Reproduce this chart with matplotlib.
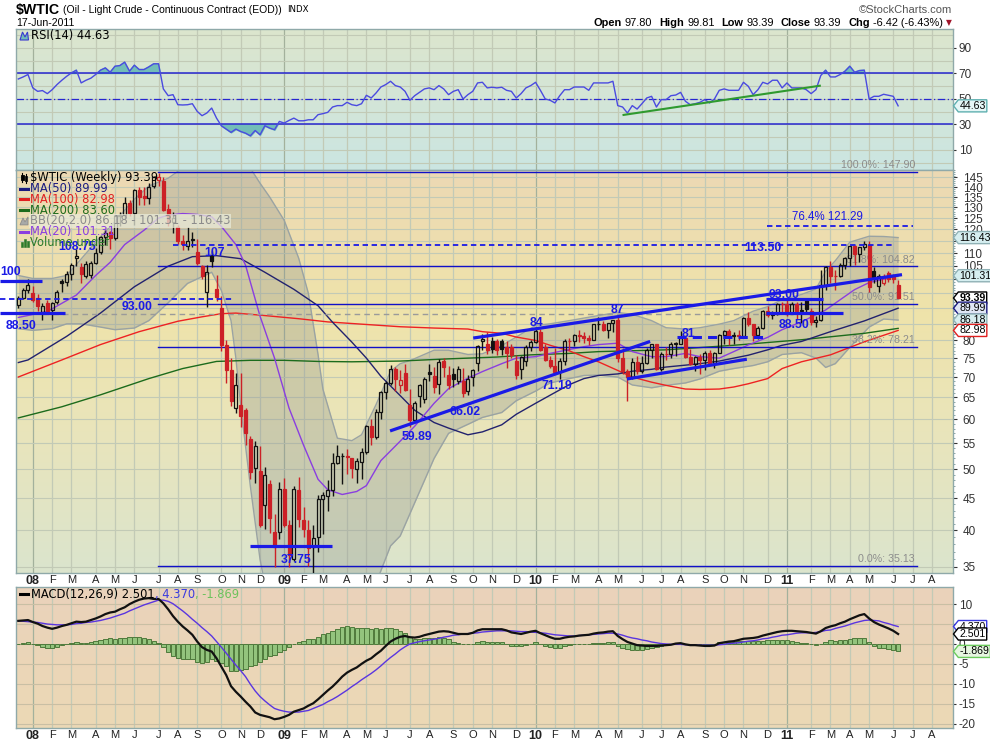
import numpy as np
import pandas as pd
import matplotlib
matplotlib.use("Agg")
import matplotlib.pyplot as plt
from matplotlib.path import Path
from matplotlib.patches import Polygon
from matplotlib.ticker import FixedLocator, NullFormatter

W, H = 990, 744

# ---------------- data (weekly bars, week starting Monday) ----------------
first_monday = "2007-12-17"

opens = [91.0, 93.4, 96.0, 95.0, 93.4, 88.6, 91.6, 89.4, 92.1, 99.5,
         99.0, 101.9, 108.2, 104.6, 101.2, 101.6, 106.3, 110.3, 116.6, 119.0,
         116.3, 125.9, 126.3, 132.0, 127.5, 138.6, 135.5, 134.6, 140.3, 143.6,
         143.0, 129.3, 123.3, 121.0, 115.2, 112.8, 115.8, 110.3, 104.9, 95.5,
         109.4, 96.6, 90.0, 78.6, 71.9, 62.6, 63.3, 62.1, 55.9, 50.3,
         49.7, 43.9, 47.3, 39.7, 39.8, 46.6, 40.8, 36.0, 46.3, 41.5,
         40.0, 37.6, 39.0, 44.8, 45.4, 46.3, 51.1, 52.4, 52.5, 52.0,
         50.0, 51.3, 53.3, 58.6, 56.3, 61.7, 66.3, 68.4, 72.0, 68.0,
         71.0, 63.3, 59.8, 65.4, 64.5, 71.3, 70.2, 68.2, 74.2, 70.5,
         70.7, 68.9, 69.1, 66.5, 70.0, 73.8, 79.9, 79.0, 79.9, 79.9,
         79.9, 78.1, 78.1, 74.3, 72.1, 74.3, 78.1, 79.4, 82.6, 78.0,
         74.5, 72.9, 71.2, 74.1, 79.8, 79.7, 81.5, 81.2, 80.7, 80.0,
         84.9, 84.9, 83.2, 85.1, 86.2, 75.1, 71.6, 70.0, 74.0, 71.5,
         73.8, 77.2, 78.9, 72.1, 76.1, 76.0, 79.0, 79.0, 80.7, 75.4,
         73.5, 75.2, 74.6, 76.5, 73.7, 76.5, 81.6, 82.7, 81.3, 81.7,
         81.4, 86.9, 84.9, 81.5, 83.8, 89.2, 87.8, 88.0, 91.5, 91.4,
         88.0, 91.5, 89.1, 92.6, 89.0, 85.6, 86.2, 97.9, 104.4, 101.2,
         101.1, 105.4, 107.9, 112.8, 109.7, 112.3, 113.5, 103.2, 97.6, 98.8,
         102.5, 101.2, 97.80]
highs = [94.0, 96.9, 100.1, 97.6, 94.6, 91.7, 92.6, 92.0, 96.0, 100.1,
         103.1, 106.0, 111.8, 106.2, 107.0, 107.0, 112.2, 117.0, 119.9, 119.3,
         126.2, 127.8, 135.1, 133.6, 139.1, 139.9, 139.9, 142.0, 145.9, 147.3,
         145.3, 131.6, 127.8, 122.0, 117.5, 121.0, 118.9, 116.0, 105.5, 105.5,
         110.8, 101.5, 94.0, 80.0, 75.0, 71.0, 71.0, 62.5, 56.5, 55.5,
         54.5, 50.5, 48.0, 42.5, 47.7, 48.5, 41.5, 47.0, 48.6, 43.5,
         41.5, 40.8, 45.5, 46.0, 48.1, 53.0, 54.7, 53.0, 53.8, 52.0,
         52.0, 54.0, 58.7, 60.1, 62.3, 66.4, 69.0, 73.2, 72.7, 71.8,
         73.4, 66.9, 64.2, 68.3, 70.0, 73.3, 72.5, 74.7, 75.0, 72.8,
         72.4, 73.0, 72.4, 70.5, 72.0, 78.8, 82.0, 82.5, 81.0, 80.5,
         80.5, 79.8, 79.0, 75.8, 75.5, 78.6, 80.0, 83.9, 83.4, 79.0,
         75.6, 77.8, 75.0, 80.5, 80.6, 82.0, 83.1, 82.6, 81.6, 85.0,
         87.0, 86.0, 85.3, 86.3, 87.2, 77.9, 72.0, 75.0, 75.6, 75.5,
         77.9, 79.0, 78.9, 76.6, 78.0, 79.4, 79.5, 82.9, 81.0, 77.5,
         75.5, 76.0, 77.0, 77.3, 76.8, 81.9, 83.2, 83.5, 82.6, 83.0,
         87.0, 88.6, 85.0, 84.4, 89.4, 90.8, 89.2, 91.6, 91.9, 92.6,
         92.0, 92.0, 92.2, 92.8, 89.9, 87.5, 103.4, 104.9, 106.9, 103.4,
         106.0, 108.5, 113.0, 113.2, 112.7, 114.8, 114.8, 104.6, 101.8, 101.8,
         103.0, 101.8, 99.81]
lows = [89.9, 92.9, 95.2, 92.0, 89.0, 86.1, 88.4, 86.1, 91.4, 95.6,
        97.7, 99.6, 105.0, 98.7, 100.4, 100.5, 105.6, 109.6, 113.5, 111.8,
        115.5, 121.5, 124.6, 125.8, 122.0, 131.3, 131.3, 131.8, 139.4, 140.4,
        128.2, 121.6, 118.5, 113.9, 111.3, 111.2, 112.4, 105.5, 100.0, 90.5,
        104.5, 92.3, 77.0, 68.6, 63.0, 61.3, 58.3, 54.7, 48.3, 47.5,
        40.5, 40.2, 39.6, 35.0, 38.8, 40.5, 35.0, 35.8, 40.5, 39.1,
        35.1, 34.0, 37.0, 39.5, 43.0, 45.4, 51.0, 47.3, 49.1, 48.4,
        47.5, 48.3, 52.9, 54.7, 55.8, 60.0, 64.7, 67.9, 66.5, 66.0,
        66.4, 58.3, 59.5, 62.7, 63.6, 69.0, 66.0, 65.9, 70.0, 67.1,
        67.4, 68.2, 65.1, 65.5, 67.7, 71.5, 77.3, 76.0, 76.5, 75.8,
        75.9, 72.4, 75.1, 69.5, 69.4, 73.0, 76.9, 79.2, 77.1, 74.3,
        72.4, 70.7, 69.5, 73.1, 77.3, 78.4, 79.4, 79.2, 78.8, 80.0,
        83.2, 82.7, 80.6, 82.6, 74.0, 70.8, 64.2, 69.5, 70.8, 71.1,
        73.4, 75.0, 71.9, 71.6, 74.5, 75.0, 75.7, 78.9, 74.9, 73.2,
        71.6, 70.8, 71.8, 73.2, 72.4, 76.4, 79.0, 78.8, 78.9, 80.2,
        81.3, 84.4, 79.9, 80.5, 83.5, 87.0, 86.6, 87.9, 88.8, 87.6,
        88.0, 86.6, 85.1, 88.5, 84.6, 84.1, 86.0, 96.1, 98.6, 96.2,
        100.8, 103.9, 105.0, 105.5, 106.4, 111.2, 95.5, 98.5, 95.5, 98.0,
        99.0, 98.5, 93.39]
closes = [93.3, 96.0, 97.9, 92.7, 90.6, 90.7, 89.0, 91.8, 95.5, 98.8,
          101.8, 105.2, 108.75, 101.8, 105.6, 106.2, 110.1, 116.7, 118.5, 116.3,
          126.0, 126.3, 132.2, 127.4, 138.5, 134.9, 134.6, 140.2, 145.3, 145.1,
          128.9, 123.3, 125.1, 115.2, 113.8, 114.9, 115.5, 106.2, 101.2, 102.6,
          106.9, 93.9, 78.7, 71.9, 64.2, 67.9, 60.8, 57.0, 49.5, 54.4,
          40.8, 49.0, 41.8, 37.7, 46.5, 40.8, 36.5, 46.5, 41.7, 40.2,
          37.5, 38.9, 44.8, 45.5, 46.3, 51.1, 52.4, 52.5, 52.2, 50.3,
          51.6, 53.2, 58.6, 56.3, 61.7, 66.3, 68.4, 72.0, 69.6, 69.2,
          66.7, 59.9, 63.6, 68.1, 69.5, 70.9, 67.5, 73.9, 72.7, 68.0,
          69.5, 72.0, 66.0, 69.5, 71.8, 78.5, 80.5, 77.3, 77.6, 77.3,
          77.6, 76.4, 75.9, 70.5, 75.2, 78.1, 79.4, 82.8, 77.3, 74.5,
          72.9, 71.2, 74.1, 79.8, 79.7, 81.5, 81.2, 80.7, 80.0, 84.9,
          84.9, 83.2, 85.1, 86.2, 75.1, 71.6, 70.0, 74.0, 71.5, 73.8,
          77.2, 78.9, 72.1, 76.1, 76.0, 79.0, 79.0, 80.7, 75.4, 73.5,
          75.2, 74.6, 76.5, 73.7, 76.5, 81.6, 82.7, 81.3, 81.7, 81.4,
          86.9, 84.9, 81.5, 83.8, 89.2, 87.8, 88.0, 91.5, 91.4, 88.0,
          91.5, 89.1, 89.3, 89.7, 85.6, 86.2, 97.9, 104.4, 101.2, 101.1,
          105.4, 107.9, 112.8, 109.7, 112.3, 113.9, 97.2, 100.7, 101.2, 100.9,
          100.2, 100.0, 93.39]

rsi = [65.7, 67.3, 69.2, 58.7, 56.0, 56.6, 54.2, 57.3, 61.3, 64.7,
       67.8, 70.5, 72.6, 62.6, 64.7, 66.3, 69.2, 72.6, 74.4, 71.0,
       75.7, 76.2, 78.9, 71.8, 76.5, 73.1, 73.1, 75.2, 77.6, 77.6,
       57.9, 52.6, 53.4, 45.5, 45.3, 45.5, 46.3, 40.3, 36.9, 39.0,
       42.9, 35.0, 29.0, 26.4, 23.8, 26.4, 24.5, 23.2, 21.1, 25.3,
       21.9, 29.0, 27.2, 25.9, 32.4, 31.1, 33.2, 35.0, 32.9, 32.9,
       33.7, 33.7, 37.7, 38.5, 39.5, 43.7, 44.8, 44.8, 47.4, 45.5,
       44.8, 46.3, 52.9, 50.8, 54.7, 59.4, 61.3, 63.9, 60.5, 59.4,
       56.0, 49.0, 52.6, 55.2, 57.9, 58.7, 57.3, 60.5, 57.9, 53.4,
       56.0, 57.3, 50.0, 53.4, 56.0, 62.6, 63.1, 58.7, 59.2, 58.7,
       59.2, 56.8, 56.0, 50.8, 54.2, 58.7, 60.5, 63.1, 56.8, 50.0,
       49.0, 46.9, 52.6, 57.3, 57.3, 59.4, 59.4, 59.4, 56.8, 62.6,
       62.6, 62.6, 62.6, 63.9, 44.8, 43.7, 39.0, 44.8, 42.1, 46.3,
       50.8, 52.1, 43.7, 49.5, 49.5, 52.6, 53.1, 55.2, 48.2, 45.5,
       46.3, 47.4, 49.5, 46.9, 50.0, 56.8, 57.9, 56.8, 56.8, 56.8,
       63.1, 60.0, 53.4, 57.3, 63.1, 61.8, 64.7, 64.7, 58.7, 62.6,
       58.7, 58.7, 58.7, 57.3, 54.2, 57.3, 68.4, 72.6, 67.3, 67.3,
       69.2, 71.8, 75.7, 71.0, 72.3, 72.6, 50.0, 52.1, 52.1, 53.7,
       52.9, 52.1, 44.63]

macd = [5.8, 5.9, 6.0, 5.5, 5.1, 4.5, 4.1, 3.8, 4.1, 4.5,
        4.8, 5.2, 5.6, 5.5, 5.6, 6.0, 6.4, 6.9, 7.5, 7.9,
        8.1, 8.7, 9.2, 10.0, 10.6, 11.1, 11.4, 11.5, 11.3, 11.3,
        10.2, 8.7, 7.0, 5.6, 4.4, 3.4, 2.3, 0.6, -0.8, -1.5,
        -1.9, -3.6, -5.7, -7.8, -10.6, -12.0, -13.2, -14.5, -15.7, -17.2,
        -17.8, -18.1, -18.4, -18.9, -18.7, -18.3, -17.8, -17.0, -16.6, -16.2,
        -15.5, -14.9, -13.9, -12.8, -11.7, -10.7, -9.5, -8.2, -7.2, -6.5,
        -5.9, -5.0, -4.2, -3.6, -2.6, -1.7, -0.5, 0.6, 1.3, 1.8,
        2.0, 1.7, 1.6, 1.8, 2.2, 2.5, 2.8, 3.1, 3.2, 3.1,
        2.8, 2.5, 2.5, 2.5, 2.8, 3.4, 3.7, 3.7, 3.7, 3.7,
        3.7, 3.4, 2.9, 2.7, 2.5, 2.8, 3.1, 3.3, 2.7, 2.2,
        1.7, 1.3, 1.3, 1.6, 1.8, 1.9, 2.1, 2.2, 2.3, 2.6,
        2.8, 2.9, 3.1, 3.2, 2.0, 1.2, 0.5, 0.1, -0.3, -0.4,
        -0.5, -0.5, -0.5, -0.4, -0.3, -0.2, 0.1, 0.2, -0.1, -0.3,
        -0.3, -0.4, -0.5, -0.5, -0.4, 0.2, 0.4, 0.6, 0.7, 1.0,
        1.3, 1.4, 1.5, 1.7, 2.1, 2.4, 2.7, 3.0, 3.2, 3.3,
        3.3, 3.2, 3.1, 3.0, 2.8, 2.6, 3.2, 4.0, 4.4, 4.7,
        5.2, 5.6, 6.2, 6.7, 7.2, 7.5, 6.4, 5.5, 4.9, 4.4,
        3.9, 3.3, 2.501]
signal = [5.8, 5.7, 5.6, 5.5, 5.4, 5.2, 5.0, 4.9, 4.8, 4.8,
          4.8, 4.9, 5.1, 5.2, 5.4, 5.5, 5.7, 5.9, 6.2, 6.5,
          6.9, 7.3, 7.7, 8.3, 8.8, 9.3, 9.8, 10.2, 10.6, 11.0,
          11.0, 10.7, 10.1, 9.2, 8.3, 7.3, 6.2, 5.2, 4.1, 3.1,
          2.0, 0.6, -0.8, -2.3, -3.8, -5.3, -6.7, -8.2, -10.1, -11.8,
          -13.2, -14.3, -15.3, -16.2, -16.6, -16.9, -17.1, -17.1, -17.1, -16.9,
          -16.7, -16.2, -15.7, -15.2, -14.5, -13.9, -13.2, -12.4, -11.6, -10.7,
          -9.9, -9.0, -8.2, -7.4, -6.5, -5.5, -4.4, -3.4, -2.5, -1.5,
          -0.7, 0.0, 0.3, 0.6, 0.8, 1.0, 1.2, 1.4, 1.7, 1.9,
          2.2, 2.3, 2.5, 2.6, 2.7, 2.8, 3.0, 3.1, 3.2, 3.3,
          3.3, 3.3, 3.3, 3.2, 3.1, 3.1, 3.0, 2.9, 2.8, 2.7,
          2.5, 2.3, 2.2, 2.1, 2.0, 2.0, 2.1, 2.2, 2.3, 2.4,
          2.5, 2.6, 2.7, 2.7, 2.5, 2.2, 1.8, 1.5, 1.3, 1.0,
          0.8, 0.5, 0.3, 0.1, 0.0, -0.1, -0.1, -0.1, -0.2, -0.2,
          -0.3, -0.3, -0.3, -0.3, -0.3, -0.2, -0.1, 0.1, 0.2, 0.3,
          0.5, 0.7, 0.8, 1.0, 1.3, 1.4, 1.7, 1.9, 2.2, 2.3,
          2.5, 2.7, 2.8, 2.8, 2.8, 2.9, 3.1, 3.4, 3.5, 3.9,
          4.2, 4.5, 4.9, 5.3, 5.6, 5.9, 6.0, 5.9, 5.8, 5.4,
          5.1, 4.7, 4.370]
hist = [0.0, 0.2, 0.4, 0.0, -0.3, -0.7, -0.9, -1.1, -0.7, -0.3,
        0.0, 0.3, 0.5, 0.3, 0.2, 0.5, 0.7, 1.0, 1.3, 1.4,
        1.2, 1.4, 1.5, 1.7, 1.8, 1.8, 1.6, 1.3, 0.7, 0.3,
        -0.8, -2.0, -3.1, -3.6, -3.9, -3.9, -3.9, -4.6, -4.9, -4.6,
        -3.9, -4.2, -4.9, -5.5, -6.8, -6.7, -6.5, -6.3, -5.6, -5.4,
        -4.6, -3.8, -3.1, -2.7, -2.1, -1.4, -0.7, 0.1, 0.5, 0.7,
        1.2, 1.3, 1.8, 2.4, 2.8, 3.2, 3.7, 4.2, 4.4, 4.2,
        4.0, 4.0, 4.0, 3.8, 3.9, 3.8, 3.9, 4.0, 3.8, 3.3,
        2.7, 1.7, 1.3, 1.2, 1.4, 1.5, 1.6, 1.7, 1.5, 1.2,
        0.6, 0.2, 0.0, -0.1, 0.1, 0.6, 0.7, 0.6, 0.5, 0.4,
        0.4, 0.1, -0.4, -0.5, -0.6, -0.3, 0.1, 0.4, -0.1, -0.5,
        -0.8, -1.0, -0.9, -0.5, -0.2, -0.1, 0.0, 0.0, 0.0, 0.2,
        0.3, 0.3, 0.4, 0.5, -0.5, -1.0, -1.3, -1.4, -1.6, -1.4,
        -1.3, -1.0, -0.8, -0.5, -0.3, -0.1, 0.2, 0.3, 0.1, -0.1,
        0.0, -0.1, -0.2, -0.2, -0.1, 0.4, 0.5, 0.5, 0.5, 0.7,
        0.8, 0.7, 0.7, 0.7, 0.8, 1.0, 1.0, 1.1, 1.0, 1.0,
        0.8, 0.5, 0.3, 0.2, 0.0, -0.3, 0.1, 0.6, 0.9, 0.8,
        1.0, 1.1, 1.3, 1.4, 1.6, 1.6, 0.4, -0.4, -0.9, -1.0,
        -1.2, -1.4, -1.869]

# overlay lines at sample bars
ma20_idx = [0, 6, 12, 16, 19, 22, 26, 29, 31, 34, 37, 40, 42, 45, 47, 50, 53, 56, 59, 62,
            64, 67, 70, 72, 75, 79, 82, 86, 89, 93, 96, 100, 103, 107, 110, 114, 117, 120,
            124, 127, 131, 134, 138, 141, 145, 148, 151, 155, 158, 162, 167, 170, 173,
            176, 179, 182]
ma20_val = [87.0, 88.9, 94.4, 101.4, 106.4, 113.5, 119.6, 125.0, 126.4, 127.1, 126.7,
            125.6, 121.3, 113.5, 105.3, 87.4, 75.0, 62.5, 54.6, 48.2, 46.4, 45.6, 46.1,
            47.1, 51.6, 55.4, 58.5, 63.6, 67.1, 69.7, 71.4, 73.5, 75.0, 75.4, 76.3, 77.4,
            78.2, 78.8, 79.2, 76.8, 75.4, 75.4, 76.3, 75.4, 75.0, 76.8, 78.7, 80.9, 83.2,
            85.6, 89.4, 92.8, 96.3, 98.8, 100.0, 101.31]
ma50_idx = [0, 2, 10, 17, 24, 31, 36, 41, 46, 51, 57, 62, 65, 69, 72, 75, 79, 82, 86, 89,
            93, 96, 100, 103, 107, 110, 114, 117, 120, 124, 127, 131, 134, 138, 141, 145,
            148, 151, 155, 158, 162, 168, 175, 182]
ma50_val = [73.8, 74.5, 81.2, 88.4, 97.3, 104.9, 108.6, 109.0, 107.8, 102.6, 96.4, 90.8,
            85.5, 79.5, 75.0, 70.2, 65.4, 62.0, 59.3, 58.1, 56.7, 57.3, 58.8, 61.1, 63.6,
            65.5, 68.1, 69.6, 70.4, 70.8, 71.5, 72.0, 72.6, 73.1, 73.5, 74.2, 75.0, 75.8,
            77.3, 78.6, 79.7, 82.6, 85.9, 89.99]
ma100_idx = [0, 9, 17, 25, 33, 38, 42, 45, 51, 58, 64, 79, 86, 93, 96, 100, 103, 107, 110,
             114, 117, 120, 124, 127, 131, 134, 138, 141, 145, 148, 151, 155, 158, 162, 168,
             175, 182]
ma100_val = [70.0, 74.5, 78.8, 82.6, 85.8, 87.2, 88.2, 88.4, 87.6, 86.6, 85.6, 84.1, 83.7,
             83.4, 82.6, 82.1, 81.0, 80.0, 78.6, 77.0, 75.4, 74.0, 71.7, 70.0, 68.7, 67.9,
             67.0, 66.9, 67.0, 67.5, 68.3, 69.6, 72.2, 74.0, 75.9, 79.6, 82.98]
ma200_idx = [0, 9, 17, 27, 34, 41, 48, 55, 62, 69, 79, 89, 99, 106, 114, 120, 134, 148,
             162, 175, 182]
ma200_val = [60.3, 62.8, 65.6, 69.6, 72.2, 74.1, 74.4, 74.4, 74.1, 74.0, 74.2, 74.8, 75.3,
             75.9, 76.3, 76.8, 77.3, 78.6, 80.2, 82.1, 83.60]
bb_idx = [0, 3, 7, 10, 13, 17, 20, 24, 27, 31, 35, 40, 42, 44, 45, 46, 48, 50, 52, 55, 58,
          60, 62, 63, 66, 69, 71, 74, 77, 79, 81, 86, 89, 93, 96, 100, 103, 107, 110, 114,
          117, 120, 124, 127, 131, 134, 138, 141, 145, 148, 152, 155, 158, 162, 165, 167,
          169, 172, 176, 179, 182]
bb_upper = [101.4, 100.3, 100.3, 101.4, 107.7, 116.8, 123.5, 133.9, 140.5, 144.6, 152.0,
            154.0, 154.0, 153.5, 153.0, 152.0, 150.0, 142.0, 135.0, 124.0, 108.0, 95.0,
            76.0, 67.0, 56.0, 55.5, 56.7, 63.3, 71.5, 73.5, 74.3, 77.2, 77.2, 76.0, 76.2,
            78.5, 81.0, 84.5, 85.0, 86.0, 86.8, 87.6, 88.6, 88.0, 86.0, 83.8, 83.4, 83.8,
            84.9, 86.0, 89.0, 90.5, 92.8, 94.6, 96.5, 103.0, 107.0, 114.5, 117.0, 116.9,
            116.43]
bb_lower = [83.5, 83.0, 83.5, 85.0, 85.0, 84.0, 83.2, 83.7, 86.0, 91.8, 98.5, 102.6, 96.0,
            86.0, 75.0, 63.0, 47.0, 36.0, 30.0, 25.0, 22.0, 22.0, 24.0, 25.0, 27.0, 29.0,
            31.0, 33.0, 37.8, 39.2, 42.5, 52.0, 57.0, 58.9, 60.4, 61.5, 64.2, 66.5, 68.5,
            69.6, 70.4, 70.5, 70.0, 68.0, 67.3, 67.9, 68.5, 69.5, 71.5, 72.2, 73.0, 74.0,
            76.0, 76.5, 75.0, 72.5, 73.5, 78.0, 84.0, 86.5, 86.18]

# annotation levels drawn on the chart (bar index from, bar index to, price)
thick_levels = [(-3.8, 4.9, 99.5), (-3.8, 9.7, 88.5), (47.9, 64.9, 37.75),
                (154.7, 166.5, 93.0), (154.7, 170.6, 88.5)]
dashed_levels = [(-3.8, 44.4, 93.0, 1.3), (136.3, 154.5, 81.0, 2.2),
                 (32.0, 181.4, 113.5, 1.3), (154.9, 185.1, 121.29, 1.3)]
trend_lines = [(76.9, 57.5, 130.7, 79.7), (94.1, 80.7, 182.8, 101.7),
               (125.9, 69.5, 150.7, 74.7)]
fib_pct = ["100.0%", "61.8%", "50.0%", "38.2%", "0.0%"]
fib_val = [147.90, 104.82, 91.51, 78.21, 35.13]
blue_labels = [("100", -3.8, 102.8, "left"), ("88.50", 0.6, 84.4, "center"),
               ("93.00", 24.6, 90.3, "center"), ("108.75", 12.2, 112.7, "center"),
               ("107", 40.5, 110.2, "center"), ("113.50", 154.1, 111.9, "center"),
               ("93.00", 158.5, 94.4, "center"), ("88.50", 160.4, 84.7, "center"),
               ("81", 138.7, 82.0, "center"), ("59.89", 82.5, 56.3, "center"),
               ("66.02", 92.4, 61.7, "center"), ("71.19", 111.4, 67.8, "center"),
               ("84", 107.1, 85.4, "center"), ("87", 123.9, 89.5, "center"),
               ("37.75", 57.4, 35.9, "center")]
rsi_trend = (125.2, 37.5, 165.8, 60.4)

# ---------------- figure ----------------
fig = plt.figure(figsize=(W / 100, H / 100), dpi=100)
fig.patch.set_facecolor("white")

def px_axes(x0, y0, x1, y1):
    return fig.add_axes([x0 / W, 1 - y1 / H, (x1 - x0) / W, (y1 - y0) / H])

def fx(p):
    return p / W

def fy(p):
    return 1 - p / H

ax_rsi = px_axes(16, 29, 953, 170)
ax = px_axes(16, 170, 953, 573)
ax_m = px_axes(16, 587, 953, 728)

n = len(closes)
x = np.arange(n)
mondays = pd.date_range(first_monday, periods=200, freq="7D")
XMIN, XMAX = -0.48, 193.35

tick_pos, tick_lab, year_pos = [], [], []
prev = (mondays[0].year, mondays[0].month)
for k, d in enumerate(mondays):
    if (d.year, d.month) != prev:
        prev = (d.year, d.month)
        if k > XMAX:
            break
        tick_pos.append(k)
        if d.month == 1:
            tick_lab.append(f"{d.year % 100:02d}")
            year_pos.append(k)
        else:
            tick_lab.append(d.strftime("%b")[0])

def gradient(a, stops):
    cmap = matplotlib.colors.LinearSegmentedColormap.from_list("g", stops)
    g = np.linspace(0, 1, 256).reshape(-1, 1)
    a.imshow(g, cmap=cmap, extent=[0, 1, 0, 1], transform=a.transAxes,
             aspect="auto", zorder=0, interpolation="bilinear")

gradient(ax_rsi, [(0, "#dce6cd"), (1, "#cbe5e2")])
gradient(ax, [(0, "#ecd9b4"), (0.35, "#efe3aa"), (0.65, "#e9e5bb"), (1, "#dbe4cd")])
gradient(ax_m, [(0, "#ead2bb"), (1, "#ecd9b5")])

FONT = "Liberation Sans"
blue = "#1a1ae6"

for a in (ax_rsi, ax, ax_m):
    a.set_xlim(XMIN, XMAX)
    for s in a.spines.values():
        s.set_color("#8fa9a9")
        s.set_linewidth(1.0)
    for p in tick_pos:
        a.axvline(p, color="#a3b19c" if p in year_pos else "#c2cab6", lw=0.9, zorder=0.5)
    a.set_xticks(tick_pos)
    a.tick_params(axis="x", length=0)
    a.yaxis.tick_right()

# ---------------- RSI ----------------
ax_rsi.set_ylim(-5.7, 104.9)
for v in range(0, 101, 10):
    ax_rsi.axhline(v, color="#c2cab6", lw=0.8, zorder=0.5)
rsi_a = np.array(rsi)
ax_rsi.fill_between(x, rsi_a, 70, where=rsi_a > 70, interpolate=True, color="#72bdb8", zorder=1)
ax_rsi.fill_between(x, rsi_a, 30, where=rsi_a < 30, interpolate=True, color="#72bdb8", zorder=1)
ax_rsi.axhline(70, color="#2626d0", lw=1.1, zorder=2)
ax_rsi.axhline(30, color="#2626d0", lw=1.1, zorder=2)
ax_rsi.axhline(50, color="#2626d0", lw=0.9, ls=(0, (6, 2, 1, 2)), zorder=2)
ax_rsi.plot(x, rsi_a, color="#4a4ae0", lw=1.0, zorder=3)
ax_rsi.plot([rsi_trend[0], rsi_trend[2]], [rsi_trend[1], rsi_trend[3]], color="#2f9a2f", lw=1.5, zorder=3)
ax_rsi.set_yticks([10, 30, 50, 70, 90])
ax_rsi.set_xticklabels([])
ax_rsi.tick_params(axis="y", length=2, pad=2, labelsize=8.5, colors="#333333")

# ---------------- price ----------------
ax.set_yscale("log")
ax.set_ylim(34.24, 149.0)
price_ticks = list(range(35, 150, 5))
hidden = {85, 90, 95, 100, 115}          # covered by the value boxes
for v in price_ticks:
    ax.axhline(v, color="#c2cab6", lw=0.8, zorder=0.5)
ax.yaxis.set_major_locator(FixedLocator(price_ticks))
ax.yaxis.set_major_formatter(matplotlib.ticker.FixedFormatter(
    ["" if v in hidden else str(v) for v in price_ticks]))
ax.yaxis.set_minor_locator(FixedLocator([v for v in range(35, 150) if v % 5]))
ax.yaxis.set_minor_formatter(NullFormatter())
ax.tick_params(axis="y", which="major", length=3, pad=4, labelsize=8.5, colors="#333333")
ax.tick_params(axis="y", which="minor", length=1.5, colors="#7a9a9a")

# bollinger band
ax.fill_between(bb_idx, bb_lower, bb_upper, color="#8f9590", alpha=0.33, lw=0, zorder=1)
ax.plot(bb_idx, bb_upper, color="#9aa3a3", lw=1.0, zorder=1.2)
ax.plot(bb_idx, bb_lower, color="#9aa3a3", lw=1.0, zorder=1.2)
ax.plot(ma200_idx, ma200_val, color="#1c6b1c", lw=1.0, zorder=2)
ax.plot(ma100_idx, ma100_val, color="#ee2222", lw=1.0, zorder=2)
ax.plot(ma50_idx, ma50_val, color="#22226e", lw=1.0, zorder=2)
ax.plot(ma20_idx, ma20_val, color="#8a3ee0", lw=1.0, zorder=2)

# fibonacci levels
for pct, v in zip(fib_pct, fib_val):
    ax.plot([28.9, 185.9], [v, v], color="#1010c8", lw=1.0, zorder=2.5)
    ax.annotate(f"{pct}: {v:.2f}", (185.5, v), xytext=(0, 1.2), textcoords="offset points",
                ha="right", va="bottom", fontsize=7.7, color="#8c8c8c", family=FONT, zorder=2.6)
ax.plot([5.1, 154.9], [88.2, 88.2], color="#9a9a9a", lw=1.0, ls=(0, (4, 3)), zorder=2.5)

# candles
o = np.array(opens); h = np.array(highs); l = np.array(lows); c = np.array(closes)
prevc = np.concatenate([[c[0]], c[:-1]])
col = np.where(c >= prevc, "#111111", "#cc2026")
top = np.maximum(o, c); bot = np.minimum(o, c)
hgt = np.maximum(top - bot, 0.12)
face = [cc if cl < op else "none" for cc, cl, op in zip(col, c, o)]
ax.vlines(x, top, h, colors=col, lw=1.0, zorder=3)
ax.vlines(x, l, bot, colors=col, lw=1.0, zorder=3)
ax.bar(x, hgt, bottom=bot, width=0.62, color=face, edgecolor=col, linewidth=0.9, zorder=3.2)

# hand drawn annotations
for i0, i1, v in thick_levels:
    ax.plot([i0, i1], [v, v], color=blue, lw=2.3, zorder=4, clip_on=False, solid_capstyle="butt")
for i0, i1, v, lw in dashed_levels:
    ax.plot([i0, i1], [v, v], color=blue, lw=lw, ls=(0, (3, 2)), zorder=4, clip_on=False)
for i0, v0, i1, v1 in trend_lines:
    ax.plot([i0, i1], [v0, v1], color=blue, lw=2.3, zorder=4, solid_capstyle="butt")
for s, i, v, ha in blue_labels:
    ax.text(i, v, s, ha=ha, va="center", fontsize=8.8, fontweight="bold", color=blue,
            family=FONT, zorder=5, clip_on=False)
ax.text(167.3, 125.7, "76.4% 121.29", ha="center", va="center", fontsize=8.3, color=blue,
        family=FONT, zorder=5)
ax.set_xticklabels([])

# ---------------- MACD ----------------
ax_m.set_ylim(-21.1, 14.3)
for v in range(-20, 15, 5):
    ax_m.axhline(v, color="#c9bfa4", lw=0.8, zorder=0.5)
ax_m.bar(x, hist, width=0.9, color="#93c47d", edgecolor="#4f7a3c", linewidth=0.7, zorder=2)
ax_m.plot(x, signal, color="#5a35e0", lw=1.0, zorder=3)
ax_m.plot(x, macd, color="#111111", lw=1.6, zorder=3)
ax_m.set_yticks([10, 5, 0, -5, -10, -15, -20])
ax_m.set_yticklabels(["10", "", "0", "-5", "-10", "-15", "-20"])
ax_m.tick_params(axis="y", length=2, pad=2, labelsize=8.5, colors="#333333")

# month labels
for a in (ax, ax_m):
    a.set_xticks(tick_pos)
    a.set_xticklabels(tick_lab)
    a.tick_params(axis="x", pad=1.5, labelsize=8, colors="#222222")
    for t, lab in zip(a.get_xticklabels(), tick_lab):
        t.set_family(FONT)
        if lab.isdigit():
            t.set_fontweight("bold")
            t.set_fontsize(9)
for a in (ax_rsi, ax, ax_m):
    for t in a.get_yticklabels():
        t.set_family(FONT)

# ---------------- value boxes on the right axis ----------------
def pent(x0, y0, width, height, mutation_size):
    pad = mutation_size * 0.1
    x0, y0 = x0 - pad, y0 - pad
    x1, y1 = x0 + width + 2 * pad, y0 + height + 2 * pad
    tip = (y1 - y0) / 2
    return Path([(x0, y0), (x1, y0), (x1, y1), (x0, y1), (x0 - tip * 0.8, y0 + tip), (x0, y0)],
                closed=True)

def value_box(a, v, text, fc, ec, bold=False):
    a.annotate(text, xy=(1.0, v), xycoords=a.get_yaxis_transform(),
               xytext=(4.6, 0), textcoords="offset points", ha="left", va="center",
               fontsize=7.6, family=FONT, fontweight="bold" if bold else "normal",
               color="black", zorder=10, annotation_clip=False,
               bbox=dict(boxstyle=pent, fc=fc, ec=ec, lw=1.0))

value_box(ax_rsi, 44.63, "44.63", "#e6f6f6", "#5fb0b0")
value_box(ax, 116.43, "116.43", "#d6eef0", "#8fb1b5")
value_box(ax, 101.31, "101.31", "#d6eef0", "#8fb1b5")
value_box(ax, 93.39, "93.39", "white", "black", bold=True)
value_box(ax, 89.99, "89.99", "#dfe6f5", "#1a1a80")
value_box(ax, 86.18, "86.18", "#d6eef0", "#8fb1b5")
value_box(ax, 82.98, "82.98", "white", "#e02020")
value_box(ax_m, 4.370, "4.370", "white", "#3a3ae0")
value_box(ax_m, 2.501, "2.501", "white", "black")
value_box(ax_m, -1.869, "-1.869", "#e6f6e0", "#6ccc5c")

# ---------------- texts ----------------
renderer = fig.canvas.get_renderer()

def run(xp, yp, pieces, ha="left"):
    objs = []
    for s, kw, gap in pieces:
        objs.append((fig.text(0, 0, s, va="center", **kw), gap))
    widths = [t.get_window_extent(renderer).width + g for t, g in objs]
    cx = xp - sum(widths) if ha == "right" else xp
    for (t, g), w in zip(objs, widths):
        t.set_position((fx(cx), fy(yp)))
        cx += w

reg = dict(family=FONT, fontsize=7.9, color="black")
bld = dict(family=FONT, fontsize=7.9, color="black", fontweight="bold")
run(16, 10, [("$WTIC", dict(family=FONT, fontsize=10.2, fontweight="bold"), 3),
             ("(Oil - Light Crude - Continuous Contract (EOD))", dict(family=FONT, fontsize=7.5), 5),
             ("INDX", dict(family="DejaVu Sans", fontsize=6.2), 0)])
fig.text(fx(16), fy(23), "17-Jun-2011", va="center", family=FONT, fontsize=7.6, color="black")
fig.text(fx(952), fy(10), "\u00a9StockCharts.com", va="center", ha="right",
         family=FONT, fontsize=8, color="#555555")
run(943, 23, [("Open", bld, 3), ("97.80", reg, 7), ("High", bld, 3), ("99.81", reg, 7),
              ("Low", bld, 3), ("93.39", reg, 7), ("Close", bld, 3), ("93.39", reg, 7),
              ("Chg", bld, 3), ("-6.42 (-6.43%)", reg, 0)], ha="right")
fig.text(fx(949), fy(23), "\u25bc", va="center", ha="center", fontsize=5.5, color="#a0142a",
         family="DejaVu Sans")

# legends
lg = dict(family="DejaVu Sans", fontsize=8.3)
fig.text(fx(31), fy(36), "RSI(14) 44.63", va="center", color="black", **lg)
legend_rows = [("$WTIC (Weekly) 93.39", "black", None),
               ("MA(50) 89.99", "#1a1a80", "#1a1a80"),
               ("MA(100) 82.98", "#e02020", "#e02020"),
               ("MA(200) 83.60", "#1c6b1c", "#1c6b1c"),
               ("BB(20,2.0) 86.18 - 101.31 - 116.43", "#8c8c8c", None),
               ("MA(20) 101.31", "#8a3ee0", "#8a3ee0"),
               ("Volume undef", "#2a7a2a", None)]
row_y = []
for k, (s, colr, dash) in enumerate(legend_rows):
    yy = 177.7 + k * 10.8
    row_y.append(yy)
    t = fig.text(fx(30), fy(yy), s, va="center", color=colr, **lg)
    if k == 4:
        t.set_bbox(dict(fc="#e8ead8", ec="none", alpha=0.75, pad=0.6))
    if dash:
        fig.add_artist(plt.Line2D([fx(20), fx(28)], [fy(yy)] * 2, color=dash, lw=2.2))
fig.add_artist(plt.Line2D([fx(20), fx(28)], [fy(594.3)] * 2, color="black", lw=2.2))

# small legend icons
def px_poly(pts, **kw):
    fig.add_artist(Polygon([(fx(a), fy(b)) for a, b in pts], closed=True,
                           transform=fig.transFigure, **kw))

y0 = row_y[0]
fig.add_artist(plt.Line2D([fx(22), fx(22)], [fy(y0 - 5), fy(y0 + 4)], color="black", lw=0.8))
px_poly([(21, y0 - 3), (23.5, y0 - 3), (23.5, y0 + 2), (21, y0 + 2)], fc="black", ec="black", lw=0.6)
fig.add_artist(plt.Line2D([fx(26), fx(26)], [fy(y0 - 4), fy(y0 + 5)], color="black", lw=0.8))
px_poly([(24.8, y0 - 2), (27.3, y0 - 2), (27.3, y0 + 3), (24.8, y0 + 3)], fc="white", ec="black", lw=0.6)
px_poly([(20, row_y[4] + 4), (23, row_y[4] - 3), (25, row_y[4] + 1), (28, row_y[4] - 4),
         (28, row_y[4] + 4)], fc="#a8aaa8", ec="#8c8c8c", lw=0.6)
for bx, bh in ((20.5, 5), (23.5, 8), (26.5, 6)):
    px_poly([(bx, row_y[6] + 4), (bx + 2, row_y[6] + 4), (bx + 2, row_y[6] + 4 - bh),
             (bx, row_y[6] + 4 - bh)], fc="#2a7a2a", ec="#2a7a2a", lw=0.4)
px_poly([(20, 40), (22.5, 32), (25, 37), (27.5, 32), (28.5, 40)], fc="#72bdb8", ec="#3a3ad0", lw=0.8)

run(31.5, 594.3, [("MACD(12,26,9) 2.501", dict(color="black", **lg), 0),
                  (", 4.370", dict(color="#3a3ae0", **lg), 0),
                  (", -1.869", dict(color="#6cc25c", **lg), 0)])

fig.savefig("out.png", dpi=100)
